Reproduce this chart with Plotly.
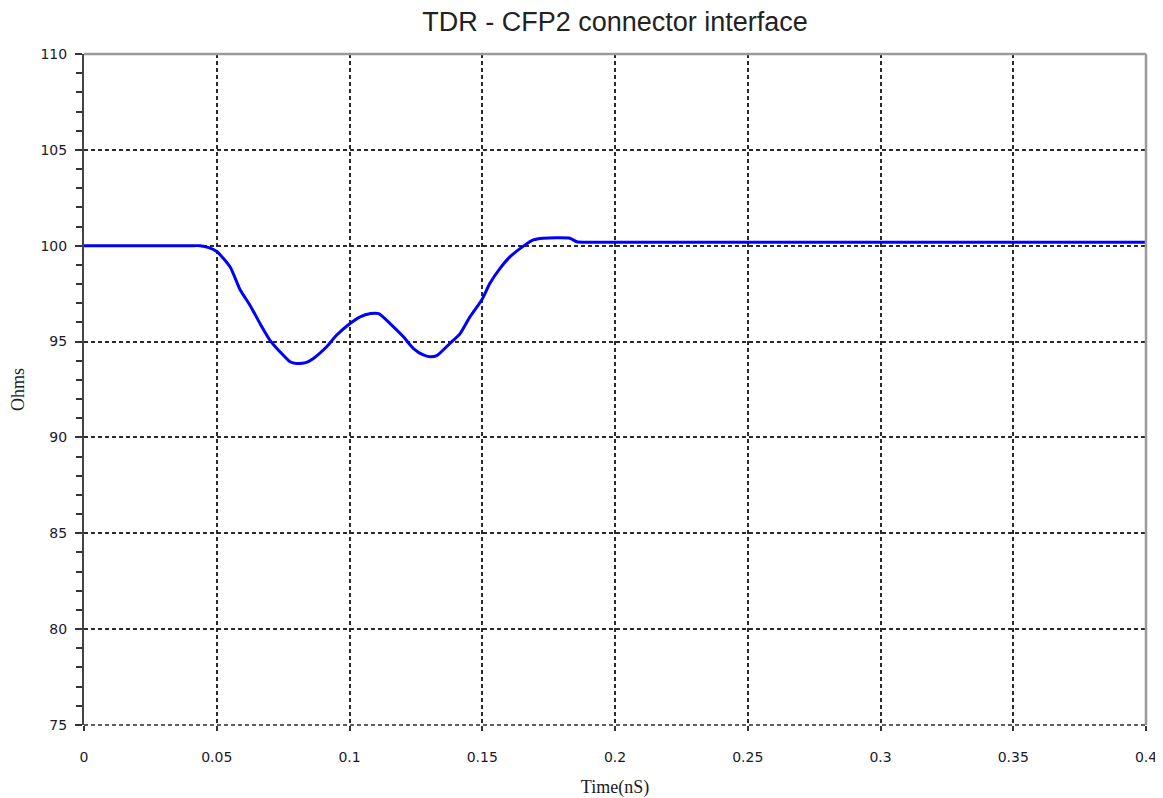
import plotly.graph_objects as go

# Data (time in nS, impedance in Ohms)
time_ns = [0, 0.01, 0.02, 0.03, 0.04, 0.0437, 0.047, 0.05, 0.055, 0.0588, 0.0625,
           0.0663, 0.070, 0.0738, 0.0776, 0.080, 0.0835, 0.0864, 0.0914, 0.0952,
           0.1002, 0.1040, 0.108, 0.111, 0.1153, 0.1203, 0.124, 0.1278, 0.1303,
           0.1330, 0.1378, 0.1416, 0.1454, 0.1498, 0.1529, 0.1567, 0.1605, 0.1655,
           0.1692, 0.173, 0.183, 0.1856, 0.19, 0.25, 0.3, 0.35, 0.4]
ohms = [100.0, 100.0, 100.0, 100.0, 100.0, 100.0, 99.9, 99.7, 98.9, 97.7, 96.9,
        95.94, 95.08, 94.47, 93.95, 93.86, 93.9, 94.12, 94.73, 95.34,
        95.94, 96.29, 96.46, 96.46, 95.94, 95.25, 94.65, 94.30, 94.21,
        94.28, 94.9, 95.4, 96.3, 97.17, 98.04, 98.82, 99.43, 99.98,
        100.3, 100.39, 100.39, 100.21, 100.18, 100.18, 100.18, 100.18, 100.18]

x_ticks = [0, 0.05, 0.1, 0.15, 0.2, 0.25, 0.3, 0.35, 0.4]
x_tick_labels = ["0", "0.05", "0.1", "0.15", "0.2", "0.25", "0.3", "0.35", "0.4"]
y_ticks = [75, 80, 85, 90, 95, 100, 105, 110]

fig = go.Figure()
fig.add_trace(go.Scatter(x=time_ns, y=ohms, mode="lines",
                         line=dict(color="#0000FF", width=3, shape="spline", smoothing=0.6),
                         showlegend=False))

grid_dash = "4px,3px"
grid_color = "#2a2a2a"
tick_font = dict(family="DejaVu Sans", size=14, color="#1a1a2a")

W, H = 1155, 790  # page body has an 8px margin inside the 1163x798 window

fig.update_layout(
    width=W, height=H,
    margin=dict(l=76, r=17, t=46, b=73, autoexpand=False),
    paper_bgcolor="white", plot_bgcolor="white",
    title=dict(text="TDR - CFP2 connector interface", x=0.5, xref="paper",
               y=1 - 14 / H, yref="container", yanchor="middle",
               font=dict(family="Liberation Sans", size=27, color="#222222")),
    xaxis=dict(range=[0, 0.4], tickvals=x_ticks, ticktext=x_tick_labels,
               showgrid=True, gridcolor=grid_color, gridwidth=1.5, griddash=grid_dash,
               zeroline=False, showline=False,
               ticks="outside", ticklen=5, tickcolor="#333333", tickwidth=1.5,
               ticklabelstandoff=14, tickfont=tick_font,
               title=dict(text="Time(nS)", standoff=17,
                          font=dict(family="Liberation Serif", size=18, color="#1a1a1a"))),
    yaxis=dict(range=[75, 110], tickvals=y_ticks,
               showgrid=True, gridcolor=grid_color, gridwidth=1.5, griddash=grid_dash,
               zeroline=False, showline=True, linecolor="#444444", linewidth=2,
               ticks="outside", ticklen=7, tickcolor="#333333", tickwidth=2,
               ticklabelstandoff=5, tickfont=tick_font,
               minor=dict(dtick=1, ticks="outside", ticklen=6, tickcolor="#333333",
                          tickwidth=2, showgrid=False),
               title=dict(text="Ohms", standoff=11,
                          font=dict(family="Liberation Serif", size=18, color="#1a1a1a"))),
    shapes=[
        dict(type="line", xref="paper", yref="paper", x0=0, x1=1, y0=0, y1=0,
             line=dict(color=grid_color, width=1.5, dash=grid_dash)),
        dict(type="line", xref="paper", yref="paper", x0=0, x1=1, y0=1, y1=1,
             line=dict(color="#9a9a9a", width=2.5)),
        dict(type="line", xref="paper", yref="paper", x0=1, x1=1, y0=0, y1=1,
             line=dict(color="#9a9a9a", width=2.5)),
    ],
)

fig.write_html("out.html")
